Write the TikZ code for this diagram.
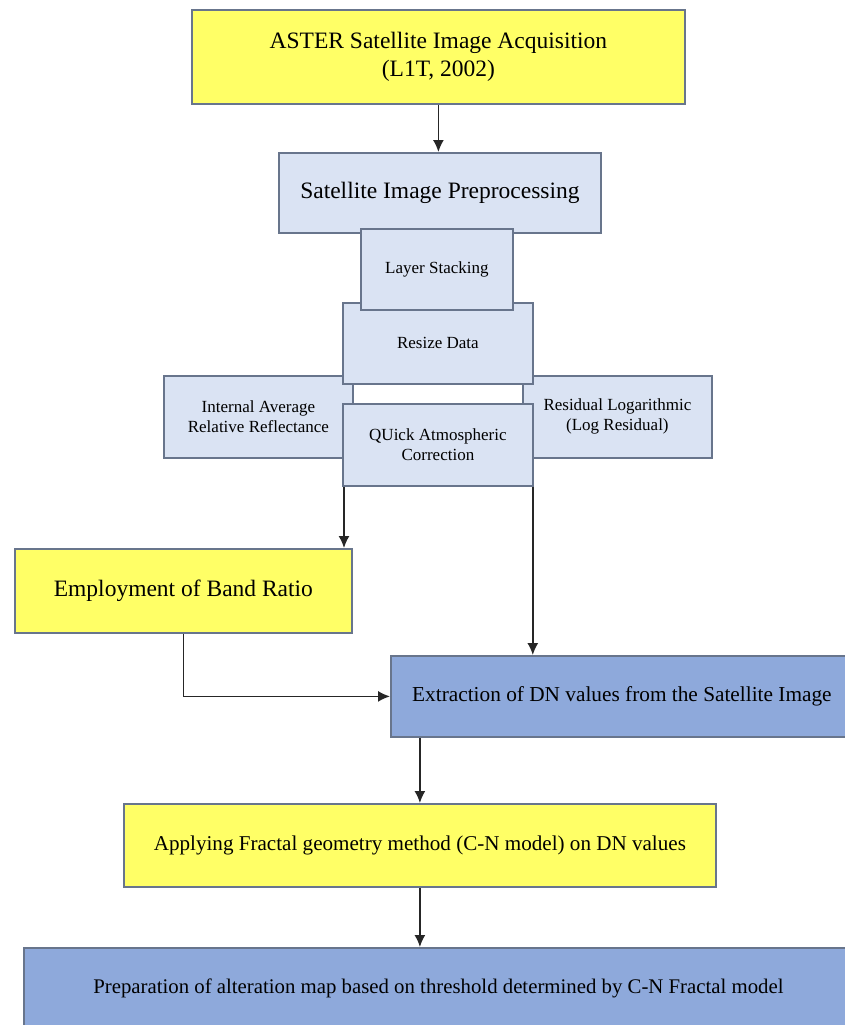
\documentclass[tikz,border=0pt]{standalone}
\usepackage{fontspec}
\setmainfont{Liberation Serif}
\usepackage{xcolor}
\usepackage{tikz}
\usetikzlibrary{positioning,fit,calc,arrows.meta}

\definecolor{stepyellow}{RGB}{255,255,102}
\definecolor{steplight}{RGB}{218,227,243}
\definecolor{stepdark}{RGB}{142,169,219}
\definecolor{stepedge}{RGB}{104,117,140}

\begin{document}
\begin{tikzpicture}[x=1pt, y=-1pt,
        box/.style={draw=stepedge, line width=1.8pt, inner sep=0pt, align=center, anchor=north west},
        flow/.style={->, >={Latex[length=12pt,width=11pt]}, line width=1.5pt, black!85}]
        \clip (0,0) rectangle (845,1025);

        % main chain
        \node (acquisition) [box, fill=stepyellow, minimum width=493pt, minimum height=94pt, font=\fontsize{23.5}{28}\selectfont] at (191,9) {ASTER Satellite Image Acquisition\\(L1T, 2002)};
        \node (preprocessing) [box, fill=steplight, minimum width=322pt, minimum height=80pt, font=\fontsize{23.5}{28}\selectfont] at (278,152) {Satellite Image Preprocessing};

        % preprocessing steps (stacked on top of each other)
        \node (iarr) [box, fill=steplight, minimum width=189pt, minimum height=82pt, font=\fontsize{17}{20}\selectfont] at (163,375) {Internal Average\\Relative Reflectance};
        \node (logres) [box, fill=steplight, minimum width=189pt, minimum height=82pt, font=\fontsize{17}{20}\selectfont] at (522,375) {Residual Logarithmic\\(Log Residual)};
        \node (resize) [box, fill=steplight, minimum width=190pt, minimum height=81pt, font=\fontsize{17}{20}\selectfont] at (342,302) {Resize Data};
        \node (stacking) [box, fill=steplight, minimum width=152pt, minimum height=81pt, font=\fontsize{17}{20}\selectfont] at (360,228) {Layer Stacking};
        \node (quac) [box, fill=steplight, minimum width=190pt, minimum height=82pt, font=\fontsize{17}{20}\selectfont] at (342,403) {QUick Atmospheric\\Correction};

        \node (bandratio) [box, fill=stepyellow, minimum width=337pt, minimum height=84pt, font=\fontsize{23.5}{28}\selectfont] at (14,548) {Employment of Band Ratio};
        \node (extraction) [box, fill=stepdark, minimum width=462pt, minimum height=81pt, font=\fontsize{21.3}{26}\selectfont] at (390,655) {Extraction of DN values from the Satellite Image};
        \node (fractal) [box, fill=stepyellow, minimum width=592pt, minimum height=83pt, font=\fontsize{21.1}{26}\selectfont] at (123,803) {Applying Fractal geometry method (C-N model) on DN values};
        \node (altmap) [box, fill=stepdark, minimum width=829pt, minimum height=82pt, font=\fontsize{20.8}{26}\selectfont] at (23,947) {Preparation of alteration map based on threshold determined by C-N Fractal model};

        \draw[flow] (acquisition.south) -- (acquisition.south |- preprocessing.north);
        \draw[flow] ([xshift=2pt]quac.south west) -- ([xshift=2pt]quac.south west |- bandratio.north);
        \draw[flow] ([xshift=-1pt]quac.south east) -- ([xshift=-1pt]quac.south east |- extraction.north);
        \draw[flow] (bandratio.south) |- (extraction.west);
        \draw[flow] (fractal.north |- extraction.south) -- (fractal.north);
        \draw[flow] (fractal.south) -- (fractal.south |- altmap.north);
    \end{tikzpicture}
\end{document}
